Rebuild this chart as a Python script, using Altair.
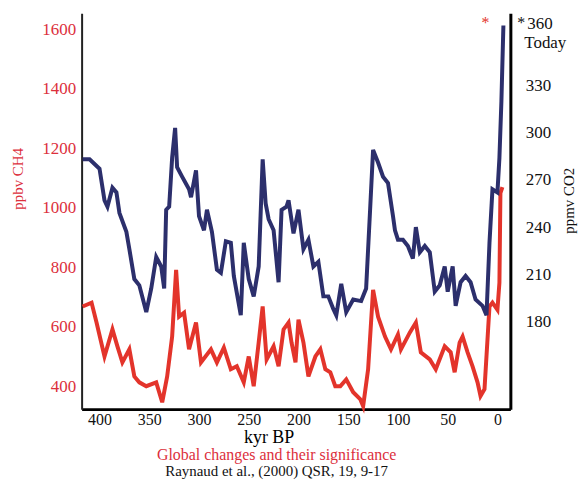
import altair as alt
import pandas as pd

# ---- data ----
co2_kyr = [417, 410, 400, 395, 392, 387, 383, 380, 373, 370, 365, 360, 353, 348, 343, 338, 335, 333, 330,
           327, 324, 322, 317, 310, 308, 303, 300, 295, 292, 287, 282, 278, 273, 268, 265, 258, 255, 250,
           245, 240, 236, 233, 230, 225, 220, 217, 212, 210, 205, 200, 195, 190, 185, 180, 175, 170, 165,
           162, 157, 152, 145, 137, 132, 128, 125, 120, 115, 110, 105, 103, 100, 95, 90, 85, 82, 78, 73,
           68, 63, 58, 53, 50, 45, 42, 37, 32, 27, 22, 15, 11, 8, 5, 0, -2, -4, -6]
co2_ppmv = [283, 283, 277, 257, 253, 265, 262, 249, 237, 226, 207, 203, 186, 201, 221, 215, 201, 251, 253,
            284, 303, 278, 272, 264, 259, 276, 247, 238, 251, 237, 213, 211, 231, 230, 209, 184, 230, 207,
            196, 215, 283, 255, 245, 238, 205, 251, 253, 257, 236, 251, 226, 232, 215, 218, 196, 196, 188,
            184, 204, 186, 194, 193, 201, 251, 289, 281, 272, 268, 247, 238, 232, 232, 228, 220, 240, 224, 228,
            224, 199, 203, 215, 199, 215, 190, 205, 209, 205, 194, 190, 184, 230, 264, 262, 284, 320, 368]

ch4_kyr = [417, 408, 403, 395, 387, 382, 377, 370, 365, 360, 353, 343, 337, 332, 327, 323, 320, 315, 310,
           303, 298, 288, 282, 275, 268, 262, 255, 250, 245, 240, 236, 232, 225, 220, 215, 210, 207, 203,
           200, 195, 190, 183, 178, 173, 168, 163, 158, 152, 145, 138, 135, 130, 125, 120, 113, 107, 100,
           97, 88, 82, 77, 68, 62, 53, 47, 43, 38, 35, 30, 25, 20, 17, 13, 8, 5, 0, -2, -3, -5]
ch4_ppbv = [668, 681, 614, 500, 591, 534, 480, 524, 433, 413, 400, 413, 346, 433, 567, 791, 634, 647, 524,
            614, 480, 524, 480, 530, 457, 467, 413, 500, 400, 547, 668, 490, 534, 467, 591, 614, 547, 480,
            624, 547, 433, 500, 524, 457, 447, 400, 400, 423, 380, 357, 333, 457, 724, 634, 567, 524, 574,
            524, 581, 614, 514, 490, 457, 534, 514, 447, 547, 567, 514, 467, 413, 367, 390, 668, 681, 657,
            748, 1049, 1069]

x_ticks = [0, 50, 100, 150, 200, 250, 300, 350, 400]
ch4_ticks = [400, 600, 800, 1000, 1200, 1400, 1600]
co2_ticks = [180, 210, 240, 270, 300, 330]

FONT = "Liberation Serif"
RED = "#e3342b"
RED_TEXT = "#dc2f3c"
BLUE = "#2c2f6c"

ch4_df = pd.DataFrame({"kyr": ch4_kyr, "ch4": ch4_ppbv})
co2_df = pd.DataFrame({"kyr": co2_kyr, "co2": co2_ppmv})

xscale = alt.Scale(domain=[-13, 418], reverse=True, nice=False, zero=False)
xaxis = alt.Axis(values=x_ticks, title="kyr BP", ticks=False, grid=False, domainColor="black",
                 domainWidth=3, labelFont=FONT, labelFontSize=16, labelColor="#111", labelPadding=2,
                 labelFlush=False, titleFont=FONT, titleFontSize=18, titleFontWeight="normal",
                 titleColor="black", titleX=188, titleY=29, titleBaseline="middle", titleAlign="center")

red = alt.Chart(ch4_df).mark_line(color=RED, strokeWidth=4).encode(
    x=alt.X("kyr:Q", scale=xscale, axis=xaxis),
    y=alt.Y("ch4:Q", scale=alt.Scale(domain=[323, 1654], nice=False, zero=False),
            axis=alt.Axis(orient="left", values=ch4_ticks, format="d", ticks=False, grid=False,
                          domainColor="#222", domainWidth=2, labelFont=FONT, labelFontSize=17,
                          labelColor=RED_TEXT, labelPadding=6, labelFlush=False, title="ppbv CH4",
                          titleFont=FONT, titleFontSize=15, titleFontWeight="normal",
                          titleColor=RED_TEXT, titleAngle=270, titleX=-64, titleY=166,
                          titleAlign="center", titleBaseline="middle")),
)

blue = alt.Chart(co2_df).mark_line(color=BLUE, strokeWidth=4).encode(
    x=alt.X("kyr:Q", scale=xscale, axis=xaxis),
    y=alt.Y("co2:Q", scale=alt.Scale(domain=[124.4, 375.8], nice=False, zero=False),
            axis=alt.Axis(orient="right", values=co2_ticks, format="d", ticks=False, grid=False,
                          domainColor="black", domainWidth=3, labelFont=FONT, labelFontSize=17,
                          labelColor="#111", labelPadding=15, labelFlush=False, title="ppmv CO2",
                          titleFont=FONT, titleFontSize=15, titleFontWeight="normal",
                          titleColor="#111", titleAngle=270, titleX=58, titleY=188,
                          titleAlign="center", titleBaseline="middle")),
)

def note(txt, x, y, color="#111", size=17, align="left"):
    return alt.Chart(pd.DataFrame({"t": [txt]})).mark_text(
        font=FONT, fontSize=size, color=color, align=align, baseline="middle"
    ).encode(text="t:N", x=alt.value(x), y=alt.value(y))

notes = (note("360", 448, 11) + note("Today", 445, 30) +
         note("*", 438, 10, size=16) + note("*", 406, 10, color=RED, size=16, align="center") +
         note("Global changes and their significance", 196, 444, color=RED_TEXT, size=16, align="center") +
         note("Raynaud et al., (2000) QSR, 19, 9-17", 196, 460, size=15, align="center"))

chart = alt.layer(red, blue, notes).resolve_scale(y="independent").properties(
    width=431, height=398,
    padding={"left": 74, "top": 4, "right": 70, "bottom": 70},
    autosize=alt.AutoSizeParams(type="none"),
).configure_view(stroke=None)

chart.save("out.html", embed_options={"renderer": "svg", "actions": False})
